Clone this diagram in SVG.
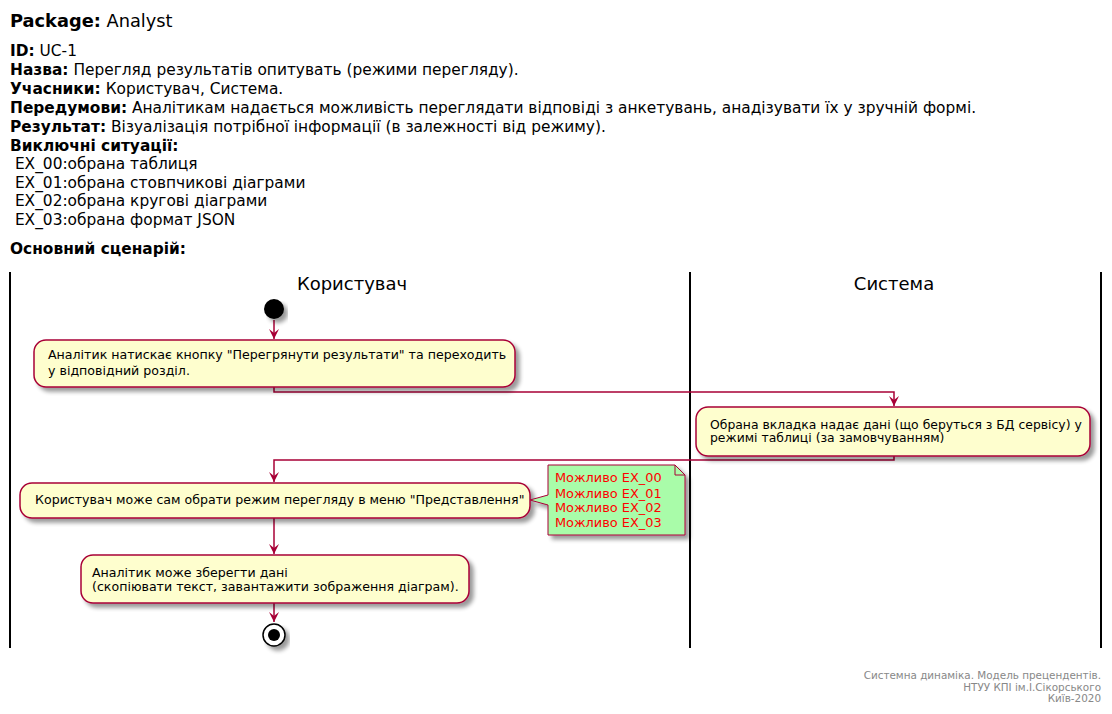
<svg xmlns="http://www.w3.org/2000/svg" width="1112" height="714" viewBox="0 0 1112 714">
<defs>
<filter id="sh" x="-10%" y="-10%" width="130%" height="150%">
<feGaussianBlur in="SourceAlpha" stdDeviation="2"/>
<feOffset dx="4" dy="4" result="b"/>
<feComponentTransfer><feFuncA type="linear" slope="0.4"/></feComponentTransfer>
<feMerge><feMergeNode/><feMergeNode in="SourceGraphic"/></feMerge>
</filter>
<marker id="ah" viewBox="0 0 12 12" refX="10" refY="6" markerWidth="12" markerHeight="12" markerUnits="userSpaceOnUse" orient="auto">
<path d="M0,1 L10,6 L0,11 L4,6 Z" fill="#A80036"/>
</marker>
</defs>
<style>
text{font-family:"DejaVu Sans","Noto Sans",sans-serif;fill:#000}
.h{font-size:15.4px}
.b{font-weight:bold}
.lane{stroke:#000;stroke-width:2}
.lt{font-size:18px}
.act{fill:#FEFECE;stroke:#A80036;stroke-width:1.5}
.at{font-size:12.6px}
.at2{font-size:12.4px}
.c{fill:none;stroke:#A80036;stroke-width:1.5}
.nt{font-size:12.9px;fill:#FF0000}
.ft{font-size:10.4px;fill:#888888}
</style>
<rect width="1112" height="714" fill="#fff"/>
<g id="header">
<text x="10" y="27" style="font-size:17.8px"><tspan class="b">Package:</tspan> Analyst</text>
<text class="h" x="10" y="56"><tspan class="b">ID:</tspan> UC-1</text>
<text class="h" x="10" y="75"><tspan class="b">Назва:</tspan> Перегляд результатів опитувать (режими перегляду).</text>
<text class="h" x="10" y="94"><tspan class="b">Учасники:</tspan> Користувач, Система.</text>
<text class="h" x="10" y="113"><tspan class="b">Передумови:</tspan> Аналітикам надається можливість переглядати відповіді з анкетувань, анадізувати їх у зручній формі.</text>
<text class="h" x="10" y="132"><tspan class="b">Результат:</tspan> Візуалізація потрібної інформації (в залежності від режиму).</text>
<text class="h b" x="10" y="151">Виключні ситуації:</text>
<text class="h" x="10" y="169" xml:space="preserve"> EX_00:обрана таблиця</text>
<text class="h" x="10" y="188" xml:space="preserve"> EX_01:обрана стовпчикові діаграми</text>
<text class="h" x="10" y="206" xml:space="preserve"> EX_02:обрана кругові діаграми</text>
<text class="h" x="10" y="225" xml:space="preserve"> EX_03:обрана формат JSON</text>
<text class="h b" x="10" y="254">Основний сценарій:</text>
</g>
<g id="lanes">
<line class="lane" x1="10" y1="272" x2="10" y2="648"/>
<line class="lane" x1="690" y1="272" x2="690" y2="648"/>
<line class="lane" x1="1101" y1="272" x2="1101" y2="648"/>
<text class="lt" x="352" y="290" text-anchor="middle">Користувач</text>
<text class="lt" x="894" y="290" text-anchor="middle">Система</text>
</g>
<g id="connectors">
<line class="c" x1="274" y1="320" x2="274" y2="339" marker-end="url(#ah)"/>
<polyline class="c" points="274,387 274,392 894,392 894,406" marker-end="url(#ah)"/>
<polyline class="c" points="894,456 894,460 274,460 274,482" marker-end="url(#ah)"/>
<line class="c" x1="274" y1="518" x2="274" y2="554" marker-end="url(#ah)"/>
<line class="c" x1="274" y1="603" x2="274" y2="622" marker-end="url(#ah)"/>
</g>
<g id="start"><circle cx="274" cy="309" r="10" fill="#000" filter="url(#sh)"/></g>
<g id="a1">
<rect class="act" x="34" y="340" width="481" height="47" rx="12" filter="url(#sh)"/>
<text class="at" x="48" y="359">Аналітик натискає кнопку "Перегрянути результати" та переходить</text>
<text class="at" x="48" y="375">у відповідний розділ.</text>
</g>
<g id="a2">
<rect class="act" x="696" y="407" width="394" height="49" rx="12" filter="url(#sh)"/>
<text class="at2" x="710" y="429">Обрана вкладка надає дані (що беруться з БД сервісу) у</text>
<text class="at2" x="710" y="442">режимі таблиці (за замовчуванням)</text>
</g>
<g id="a3">
<rect class="act" x="20" y="483" width="510" height="35" rx="12" filter="url(#sh)"/>
<text class="at" x="35" y="504">Користувач може сам обрати режим перегляду в меню "Представлення"</text>
</g>
<g id="note">
<path d="M548,465 L675,465 L685,475 L685,535 L548,535 L548,505 L530,500 L548,495 Z" fill="#A9FCA9" stroke="#A80036" stroke-width="1" filter="url(#sh)"/>
<path d="M675,465 L675,475 L685,475" fill="none" stroke="#A80036" stroke-width="1"/>
<text class="nt" x="555" y="482">Можливо EX_00</text>
<text class="nt" x="555" y="498">Можливо EX_01</text>
<text class="nt" x="555" y="512">Можливо EX_02</text>
<text class="nt" x="555" y="527">Можливо EX_03</text>
</g>
<g id="a4">
<rect class="act" x="81" y="555" width="388" height="48" rx="12" filter="url(#sh)"/>
<text class="at" x="92" y="577">Аналітик може зберегти дані</text>
<text class="at" x="92" y="591">(скопіювати текст, завантажити зображення діаграм).</text>
</g>
<g id="end">
<circle cx="274" cy="635" r="11" fill="#fff" stroke="#000" stroke-width="1.5" filter="url(#sh)"/>
<circle cx="274" cy="635" r="6" fill="#000"/>
</g>
<g id="footer">
<text class="ft" x="1101" y="679" text-anchor="end">Системна динаміка. Модель прецендентів.</text>
<text class="ft" x="1101" y="691" text-anchor="end">НТУУ КПІ ім.І.Сікорського</text>
<text class="ft" x="1101" y="702" text-anchor="end">Київ-2020</text>
</g>
</svg>
